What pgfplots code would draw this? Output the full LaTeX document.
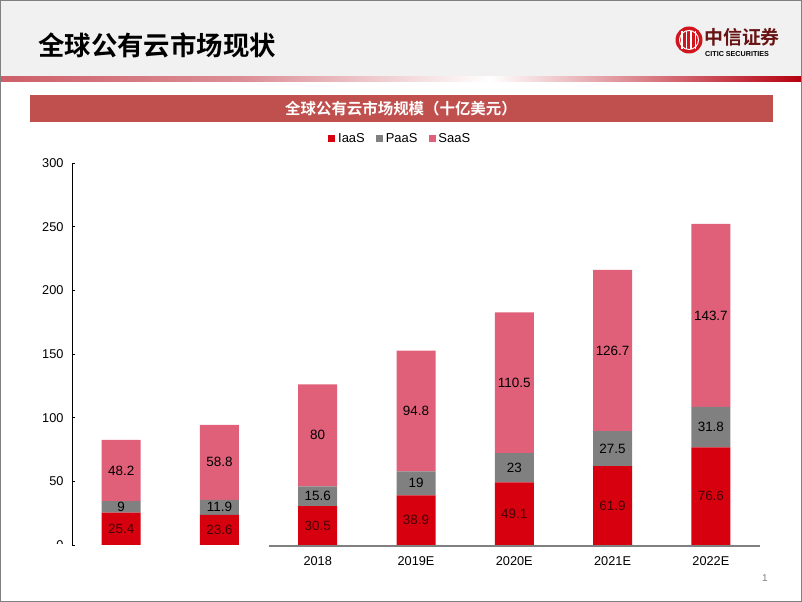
\documentclass[border=0pt]{standalone}
\usepackage{pgfplots}
\pgfplotsset{compat=1.18}
\usepackage{fontspec}
\setmainfont{Liberation Sans}
\newfontfamily\cjk{Noto Sans CJK SC}[BoldFont={Noto Sans CJK SC Bold}]
\definecolor{iaas}{RGB}{215,0,15}
\definecolor{paas}{RGB}{128,128,128}
\definecolor{saas}{RGB}{224,96,122}
\definecolor{banner}{RGB}{192,80,77}
\definecolor{hdr}{RGB}{241,241,241}
\definecolor{lineL}{RGB}{205,95,105}
\definecolor{lineR}{RGB}{180,0,15}
\definecolor{logored}{RGB}{210,20,30}
\definecolor{logotext}{RGB}{105,20,20}
\definecolor{darklab}{RGB}{70,0,5}
\pgfplotsset{
  sq legend/.style={legend image code/.code={\fill[##1] (0bp,-3.5bp) rectangle (7bp,3.5bp);}},
  chartframe/.style={
    at={(72bp,57bp)}, anchor=south west,
    scale only axis, width=688bp, height=382bp,
    xmin=-0.5, xmax=6.5, ymin=0, ymax=300,
    clip=false,
  },
}
\begin{document}
\begin{tikzpicture}[x=1bp,y=1bp]
\useasboundingbox (0,0) rectangle (802,602);
\fill[white] (0,0) rectangle (802,602);
% header
\fill[hdr] (0,602-77) rectangle (802,602);
\shade[left color=lineL, right color=white, middle color=lineL!70!white] (0,602-82) rectangle (490,602-77);
\shade[left color=white, right color=lineR] (490,602-82) rectangle (802,602-77);
\draw[gray, line width=1bp] (0.5,0.5) rectangle (801.5,601.5);
\node[anchor=west, inner sep=0] at (38,602-45) {\cjk\bfseries\fontsize{26.5}{27}\selectfont 全球公有云市场现状};
% logo
\fill[logored] (689,602-40) circle (13.5);
\foreach \xx in {682,686.5,691,695.5} {\draw[white, line width=1.3bp] (\xx,602-31) -- (\xx,602-49);}
\draw[white, line width=1bp] (689,602-40) circle (9.5);
\node[anchor=west, inner sep=0, text=logotext] at (704,602-37) {\cjk\bfseries\fontsize{19}{19}\selectfont 中信证券};
\node[anchor=west, inner sep=0] at (705,602-54) {\bfseries\fontsize{7.2}{7.2}\selectfont CITIC SECURITIES};
% banner
\fill[banner] (30,602-122) rectangle (773,602-95);
\node[text=white] at (401,602-108.5) {\cjk\bfseries\fontsize{15.5}{16}\selectfont 全球公有云市场规模（十亿美元）};
% chart
\begin{axis}[
  chartframe,
  ybar stacked, bar width=39bp,
  axis lines*=left,
  x axis line style={draw=none},
  y axis line style={black, line width=0.9bp},
  ytick={0,50,...,300},
  xtick={0,...,6},
  xticklabels={,,2018,2019E,2020E,2021E,2022E},
  tick align=inside, major tick length=3bp,
  ytick style={black, line width=0.9bp},
  xtick style={draw=none},
  tick label style={font=\fontsize{12.8}{13}\selectfont, text=black},
  yticklabel style={xshift=-5bp},
  xticklabel style={yshift=-8bp},
  /pgf/number format/assume math mode=true,
  legend columns=-1,
  legend style={at={(0.477,1.063)}, anchor=center, draw=none, fill=none,
    font=\fontsize{13}{13}\selectfont,
    /tikz/every even column/.append style={column sep=9bp},
    /tikz/every odd column/.append style={column sep=1bp}},
]
\addplot[fill=iaas, draw=none, sq legend] coordinates {(0,25.4) (1,23.6) (2,30.5) (3,38.9) (4,49.1) (5,61.9) (6,76.6)};
\addplot[fill=paas, draw=none, sq legend] coordinates {(0,9) (1,11.9) (2,15.6) (3,19) (4,23) (5,27.5) (6,31.8)};
\addplot[fill=saas, draw=none, sq legend] coordinates {(0,48.2) (1,58.8) (2,80) (3,94.8) (4,110.5) (5,126.7) (6,143.7)};
\legend{IaaS,PaaS,SaaS}
\draw[color=paas, line width=2bp] ([yshift=-1.2bp]axis cs:1.5,0) -- ([yshift=-1.2bp]axis cs:6.5,0);
\end{axis}
% segment labels (centre of each segment)
\begin{axis}[
  chartframe, hide axis,
  nodes near coords, point meta=explicit symbolic,
  every node near coord/.append style={anchor=center, font=\fontsize{13.5}{14}\selectfont, inner sep=0pt},
]
\addplot[draw=none, mark=none, every node near coord/.append style={text=darklab}] table[meta=lab] {
x y lab
0 12.7 25.4
1 11.8 23.6
2 15.25 30.5
3 19.45 38.9
4 24.55 49.1
5 30.95 61.9
6 38.3 76.6
};
\addplot[draw=none, mark=none, every node near coord/.append style={text=black}] table[meta=lab] {
x y lab
0 29.9 9
1 29.55 11.9
2 38.3 15.6
3 48.4 19
4 60.6 23
5 75.65 27.5
6 92.5 31.8
};
\addplot[draw=none, mark=none, every node near coord/.append style={text=black}] table[meta=lab] {
x y lab
0 58.5 48.2
1 64.9 58.8
2 86.1 80
3 105.3 94.8
4 127.35 110.5
5 152.75 126.7
6 180.25 143.7
};
\end{axis}
\fill[white] (30,602-556) rectangle (70,602-544);
\node[text=gray] at (765,602-578) {\fontsize{10}{10}\selectfont 1};
\end{tikzpicture}
\end{document}
